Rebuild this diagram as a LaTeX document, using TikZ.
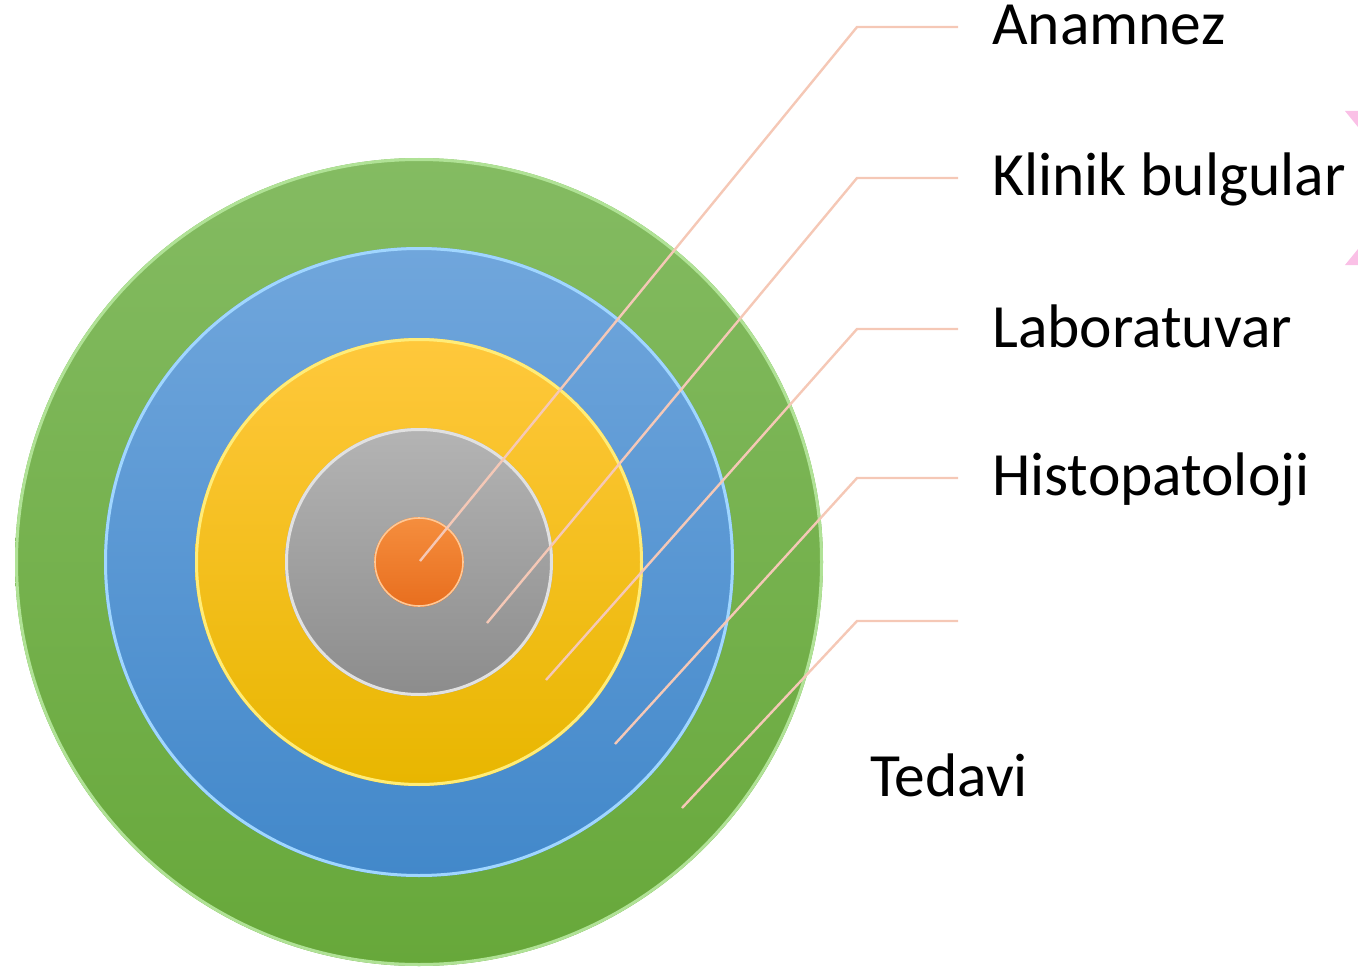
\documentclass[tikz,border=0pt]{standalone}
\usepackage{fontspec}
\setmainfont{Carlito}
\definecolor{gTop}{RGB}{132,187,98}
\definecolor{gBot}{RGB}{103,168,58}
\definecolor{gRim}{RGB}{176,226,150}
\definecolor{bTop}{RGB}{112,166,220}
\definecolor{bBot}{RGB}{66,136,202}
\definecolor{bRim}{RGB}{160,214,255}
\definecolor{yTop}{RGB}{255,200,60}
\definecolor{yBot}{RGB}{232,182,0}
\definecolor{yRim}{RGB}{255,236,120}
\definecolor{sTop}{RGB}{180,180,180}
\definecolor{sBot}{RGB}{140,140,140}
\definecolor{sRim}{RGB}{225,225,225}
\definecolor{oTop}{RGB}{245,142,62}
\definecolor{oBot}{RGB}{232,110,30}
\definecolor{oRim}{RGB}{255,200,150}
\definecolor{leader}{RGB}{245,200,182}
\definecolor{pinkc}{RGB}{250,192,230}
\tikzset{
  lbl/.style={font=\fontsize{61.5}{72}\selectfont, text=black, inner sep=0pt, anchor=base west},
  lead/.style={draw=leader, line width=2.4pt},
  rim/.style={line width=3pt}
}
\begin{document}
\begin{tikzpicture}[x=1pt,y=-1pt]
\useasboundingbox (0,0) rectangle (1358,971);
\coordinate (c) at (419,562);
% rings
\shade[top color=gTop, bottom color=gBot] (c) circle (404);
\draw[rim, gRim] (c) circle (402.5);
\shade[top color=bTop, bottom color=bBot] (c) circle (315);
\draw[rim, bRim] (c) circle (313.5);
\shade[top color=yTop, bottom color=yBot] (c) circle (224);
\draw[rim, yRim] (c) circle (222.5);
\shade[top color=sTop, bottom color=sBot] (c) circle (134);
\draw[rim, sRim] (c) circle (132.5);
\shade[top color=oTop, bottom color=oBot] (c) circle (45);
\draw[rim, oRim, line width=1.6pt] (c) circle (44);
% pink fragments at the right edge
\fill[pinkc] (1345,111) -- (1358,111) -- (1358,127) -- cycle;
\fill[pinkc] (1345,265) -- (1358,265) -- (1358,249) -- cycle;
% leader coordinates
\coordinate (d1) at (420,561);
\coordinate (d2) at (487,623);
\coordinate (d3) at (546,680);
\coordinate (d4) at (615,744);
\coordinate (d5) at (682,808);
\coordinate (k1) at (857,27);
\coordinate (k2) at (857,178);
\coordinate (k3) at (857,329);
\coordinate (k4) at (857,478);
\coordinate (k5) at (857,621);
\coordinate (e1) at (958,27);
\coordinate (e2) at (958,178);
\coordinate (e3) at (958,329);
\coordinate (e4) at (958,478);
\coordinate (e5) at (958,621);
\draw[lead] (d1) -- (k1) -- (e1);
\draw[lead] (d2) -- (k2) -- (e2);
\draw[lead] (d3) -- (k3) -- (e3);
\draw[lead] (d4) -- (k4) -- (e4);
\draw[lead] (d5) -- (k5) -- (e5);
% labels
\node[lbl] (t1) at (992,45) {Anamnez};
\node[lbl] (t2) at (992,196) {Klinik bulgular};
\node[lbl] (t3) at (992,347) {Laboratuvar};
\node[lbl] (t4) at (992,495) {Histopatoloji};
\node[lbl] (t5) at (870,796) {Tedavi};
\end{tikzpicture}
\end{document}
